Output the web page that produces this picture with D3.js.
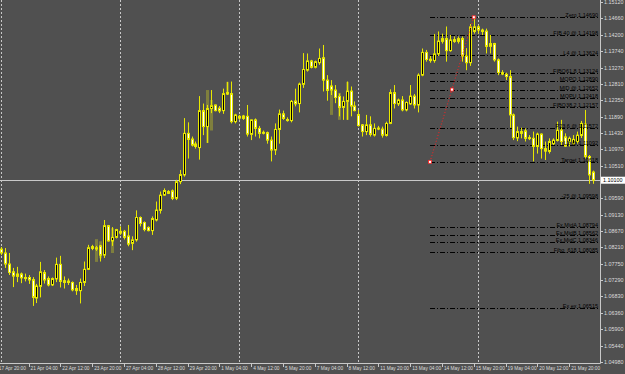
<!DOCTYPE html>
<html lang="en">
  <head>
    <meta charset="utf-8" />
    <script src="https://d3js.org/d3.v7.min.js"></script>
    <style>
      body {
        margin: 0;
        background-color: #505050;
        overflow: hidden;
      }
      svg text {
        font-family: "Liberation Sans", Arial, sans-serif;
      }
    </style>
  </head>
  <body>
    <div id="chart"></div>

    <script>
      const width = 625;
      const height = 374;
      const plotRight = 600;
      const plotBottom = 363;

      // H4 bars, 20 Apr 00:00 -> 22 May 20:00
      const opens = [
        1.0816, 1.0805, 1.0774, 1.0752, 1.0739, 1.0746, 1.0736, 1.0736, 1.073, 1.0678,
        1.0711, 1.075, 1.0733, 1.0715, 1.0732, 1.0773, 1.0727, 1.0726, 1.0722, 1.0705,
        1.0699, 1.0722, 1.0759, 1.0823, 1.0816, 1.0825, 1.0799, 1.0882, 1.0839, 1.0849,
        1.0866, 1.0866, 1.0853, 1.0832, 1.0842, 1.0905, 1.0891, 1.0877, 1.0868, 1.0898,
        1.0925, 1.0968, 1.0978, 1.098, 1.0959, 1.1006, 1.1025, 1.1142, 1.1126, 1.1112,
        1.1102, 1.1206, 1.1161, 1.1212, 1.1222, 1.1213, 1.1206, 1.1257, 1.1254, 1.1175,
        1.119, 1.1184, 1.119, 1.1139, 1.118, 1.1156, 1.1145, 1.1144, 1.1123, 1.1095,
        1.1153, 1.1197, 1.1181, 1.1178, 1.1233, 1.1226, 1.128, 1.132, 1.1346, 1.1328,
        1.1341, 1.1355, 1.1292, 1.1275, 1.1264, 1.1246, 1.1215, 1.1232, 1.1261, 1.1219,
        1.1195, 1.1166, 1.1147, 1.1166, 1.1137, 1.1157, 1.1154, 1.1136, 1.117, 1.1257,
        1.1225, 1.1236, 1.1208, 1.1225, 1.1247, 1.1222, 1.1306, 1.137, 1.1347, 1.1347,
        1.1366, 1.1401, 1.1409, 1.1375, 1.1406, 1.1401, 1.1409, 1.136, 1.1341, 1.1429,
        1.1442, 1.1433, 1.143, 1.1387, 1.1395, 1.1349, 1.1313, 1.1309, 1.1302, 1.1194,
        1.1129, 1.1147, 1.1149, 1.113, 1.1128, 1.1105, 1.114, 1.1099, 1.1091, 1.1113,
        1.1122, 1.1151, 1.1132, 1.1119, 1.1113, 1.1119, 1.1136, 1.1168, 1.1077, 1.1033
      ];
      const highs = [
        1.0822, 1.0819, 1.0805, 1.0763, 1.0766, 1.075, 1.0747, 1.0743, 1.0737, 1.0718,
        1.078, 1.0757, 1.0739, 1.0736, 1.0792, 1.0797, 1.0739, 1.0733, 1.0725, 1.0715,
        1.0733, 1.0781, 1.0828, 1.0828, 1.0825, 1.0828, 1.0898, 1.0884, 1.0878, 1.0873,
        1.088, 1.087, 1.0884, 1.0852, 1.0925, 1.0908, 1.0894, 1.088, 1.0908, 1.095,
        1.0978, 1.0987, 1.0982, 1.0984, 1.1011, 1.1039, 1.1185, 1.1173, 1.1133, 1.1119,
        1.1247, 1.1226, 1.1222, 1.1264, 1.1223, 1.1219, 1.1268, 1.1287, 1.1288, 1.1197,
        1.1194, 1.1194, 1.1222, 1.1181, 1.1184, 1.1163, 1.115, 1.1147, 1.1133, 1.117,
        1.1209, 1.1206, 1.1187, 1.1236, 1.1268, 1.1285, 1.1368, 1.1367, 1.1349, 1.1347,
        1.1381, 1.1391, 1.1306, 1.1292, 1.1278, 1.1254, 1.1246, 1.1288, 1.1274, 1.1232,
        1.1208, 1.1168, 1.1194, 1.119, 1.117, 1.1163, 1.1161, 1.1175, 1.1266, 1.1278,
        1.124, 1.1247, 1.1232, 1.1278, 1.1253, 1.1311, 1.1381, 1.1377, 1.136, 1.1422,
        1.1429, 1.1423, 1.1443, 1.1419, 1.1415, 1.1415, 1.1415, 1.1382, 1.145, 1.1469,
        1.1447, 1.1437, 1.1437, 1.1419, 1.1397, 1.1353, 1.132, 1.1313, 1.132, 1.1198,
        1.1161, 1.1158, 1.1156, 1.1137, 1.1147, 1.1144, 1.1142, 1.1119, 1.1128, 1.1128,
        1.1175, 1.118, 1.1142, 1.1133, 1.1137, 1.1147, 1.1177, 1.1208, 1.1081, 1.1037
      ];
      const lows = [
        1.0799, 1.0763, 1.0743, 1.0709, 1.0723, 1.072, 1.0725, 1.0718, 1.0656, 1.0664,
        1.068, 1.0719, 1.0711, 1.0712, 1.0723, 1.0708, 1.0705, 1.0715, 1.0697, 1.0687,
        1.0663, 1.0712, 1.0757, 1.0813, 1.0811, 1.0781, 1.0791, 1.0837, 1.0825, 1.0846,
        1.0856, 1.0843, 1.0824, 1.0813, 1.0837, 1.088, 1.0866, 1.0866, 1.0856, 1.0894,
        1.0916, 1.0966, 1.0971, 1.0954, 1.0954, 1.0999, 1.102, 1.1071, 1.1105, 1.1099,
        1.1068, 1.1137, 1.1115, 1.1199, 1.1204, 1.1199, 1.1197, 1.125, 1.117, 1.117,
        1.118, 1.118, 1.1133, 1.1123, 1.1133, 1.1128, 1.1139, 1.1113, 1.1063, 1.1081,
        1.1113, 1.118, 1.1175, 1.1173, 1.1218, 1.1201, 1.127, 1.1316, 1.1325, 1.1325,
        1.1335, 1.126, 1.1234, 1.125, 1.1227, 1.119, 1.118, 1.118, 1.119, 1.1204,
        1.1161, 1.1133, 1.1137, 1.1133, 1.1133, 1.1151, 1.113, 1.1133, 1.1168, 1.1212,
        1.1219, 1.1204, 1.1204, 1.1222, 1.1212, 1.1201, 1.1303, 1.1344, 1.1341, 1.1341,
        1.136, 1.1395, 1.1344, 1.1372, 1.1397, 1.1395, 1.1344, 1.132, 1.1332, 1.1423,
        1.1423, 1.1419, 1.1367, 1.1367, 1.1344, 1.1306, 1.1306, 1.1292, 1.1158, 1.1123,
        1.112, 1.1128, 1.1119, 1.1123, 1.1063, 1.1085, 1.1071, 1.1067, 1.1085, 1.1109,
        1.1119, 1.1109, 1.1104, 1.1105, 1.1109, 1.1113, 1.1129, 1.1071, 1.1, 1.1
      ];
      const closes = [
        1.0805, 1.0774, 1.075, 1.074, 1.0746, 1.0735, 1.0733, 1.0729, 1.068, 1.0712,
        1.0752, 1.0729, 1.0715, 1.0733, 1.0773, 1.0725, 1.0722, 1.0722, 1.0701, 1.0699,
        1.0722, 1.0759, 1.082, 1.0818, 1.082, 1.0799, 1.0882, 1.0839, 1.0849, 1.0871,
        1.0861, 1.0849, 1.083, 1.0842, 1.0905, 1.0888, 1.0871, 1.0868, 1.0902, 1.0926,
        1.0968, 1.0981, 1.0973, 1.0959, 1.1006, 1.1026, 1.1142, 1.1125, 1.1109, 1.1105,
        1.1206, 1.1161, 1.1212, 1.122, 1.1206, 1.1205, 1.1254, 1.1253, 1.1175, 1.1194,
        1.1185, 1.1191, 1.114, 1.118, 1.1156, 1.1142, 1.1143, 1.1123, 1.1095, 1.1153,
        1.1197, 1.1184, 1.1178, 1.1232, 1.1225, 1.1281, 1.1322, 1.1346, 1.1328, 1.1344,
        1.1353, 1.1292, 1.1263, 1.1264, 1.1243, 1.1215, 1.1232, 1.1261, 1.1219, 1.1206,
        1.1164, 1.1147, 1.1166, 1.1139, 1.1156, 1.1154, 1.1137, 1.117, 1.1257, 1.1226,
        1.1236, 1.1208, 1.1229, 1.1247, 1.1222, 1.1306, 1.137, 1.135, 1.1351, 1.1366,
        1.1402, 1.1409, 1.1375, 1.1405, 1.1401, 1.1409, 1.136, 1.1341, 1.1442, 1.1442,
        1.1433, 1.1429, 1.1387, 1.1395, 1.1349, 1.1313, 1.1309, 1.1302, 1.1194, 1.113,
        1.1147, 1.1142, 1.1128, 1.1128, 1.1105, 1.114, 1.1099, 1.1092, 1.1119, 1.1123,
        1.1151, 1.1119, 1.1106, 1.1128, 1.1125, 1.1137, 1.117, 1.1077, 1.1025, 1.101
      ];

      // faint overlay bars seen behind the main candles
      const ghostBars = [24, 25, 28, 52, 53, 57, 83, 85, 87];
      const ghostHighs = [1.0844, 1.0838, 1.0875, 1.1264, 1.1236, 1.1287, 1.1278, 1.1256, 1.1287];
      const ghostLows = [1.0780, 1.0790, 1.0805, 1.1115, 1.1150, 1.1250, 1.1194, 1.1180, 1.1180];

      const priceTicks = [
        "1.15120", "1.14660", "1.14200", "1.13740", "1.13270", "1.12810", "1.12350",
        "1.11890", "1.11430", "1.10970", "1.10510", "1.09590", "1.09130", "1.08670",
        "1.08210", "1.07750", "1.07290", "1.06830", "1.06360", "1.05900", "1.05440",
        "1.04980"
      ];

      const dateLabels = [
        "17 Apr 20:00", "21 Apr 04:00", "22 Apr 12:00", "23 Apr 20:00", "27 Apr 04:00",
        "28 Apr 12:00", "29 Apr 20:00", "1 May 04:00", "4 May 12:00", "5 May 20:00",
        "7 May 04:00", "8 May 12:00", "11 May 20:00", "13 May 04:00", "14 May 12:00",
        "15 May 20:00", "19 May 04:00", "20 May 12:00", "21 May 20:00"
      ];
      const dateBars = [-1, 7, 15, 23, 31, 39, 47, 55, 63, 71, 79, 87, 95, 103, 111, 119, 127, 135, 143];

      // Monday 00:00 bars
      const weekStarts = [0, 30, 60, 90, 120];

      const levelNames = [
        "Zero", "FIB 40 @", "L4 @", "FIBO61.8", "MOPO", "MID @", "MOPU", "FIBO38.2",
        "P23.6 @", "L2 @", "Target", "-25 @", "Ex.MidA", "Ex.MidB", "Ex.MidC",
        "Fibo_618", "Ex ex"
      ];
      const levelPrices = [
        1.1469, 1.14198, 1.13624, 1.13124, 1.1289, 1.12652, 1.12418, 1.12157,
        1.11572, 1.11092, 1.10618, 1.09598, 1.08794, 1.08562, 1.08346, 1.08085, 1.06515
      ];
      const levelStartBar = 108;

      // red trend line anchors
      const trendBars = [108, 119];
      const trendPrices = [1.10618, 1.1469];

      const bars = opens.map((o, i) => ({
        i,
        o,
        h: highs[i],
        l: lows[i],
        c: closes[i]
      }));
      const lastPrice = closes[closes.length - 1];

      const svg = d3
        .select("#chart")
        .append("svg")
        .attr("width", width)
        .attr("height", height);

      const x = d3.scaleLinear().domain([0, 149]).range([0.7, 593]);
      const y = d3.scaleLinear().domain([1.0498, 1.1512]).range([362, 2]);

      svg
        .append("rect")
        .attr("width", width)
        .attr("height", height)
        .attr("fill", "#505050");

      svg
        .append("defs")
        .append("clipPath")
        .attr("id", "plot")
        .append("rect")
        .attr("width", plotRight)
        .attr("height", plotBottom);

      const plot = svg.append("g").attr("clip-path", "url(#plot)");

      // week separators
      plot
        .selectAll(".sep")
        .data(weekStarts)
        .join("line")
        .attr("x1", (d) => Math.round(x(d)) + 0.5)
        .attr("x2", (d) => Math.round(x(d)) + 0.5)
        .attr("y1", 0)
        .attr("y2", plotBottom)
        .attr("stroke", "#c8c8c8")
        .attr("stroke-dasharray", "2,2");

      // levels
      plot
        .selectAll(".level")
        .data(levelPrices)
        .join("line")
        .attr("x1", x(levelStartBar))
        .attr("x2", plotRight)
        .attr("y1", (d) => Math.round(y(d)) + 0.5)
        .attr("y2", (d) => Math.round(y(d)) + 0.5)
        .attr("stroke", "#000")
        .attr("stroke-width", 1)
        .attr("stroke-dasharray", "5,2,1,2");

      // bid line
      plot
        .append("line")
        .attr("x1", 0)
        .attr("x2", plotRight)
        .attr("y1", Math.round(y(lastPrice)) + 0.5)
        .attr("y2", Math.round(y(lastPrice)) + 0.5)
        .attr("stroke", "#c8c8c8");

      // ghost bars
      plot
        .selectAll(".ghost")
        .data(ghostBars)
        .join("rect")
        .attr("x", (d) => Math.round(x(d)) - 1)
        .attr("width", 3)
        .attr("y", (d, i) => y(ghostHighs[i]))
        .attr("height", (d, i) => y(ghostLows[i]) - y(ghostHighs[i]))
        .attr("fill", "#a6a62e")
        .attr("opacity", 0.55);

      // candles
      const candle = plot.selectAll(".candle").data(bars).join("g");

      candle
        .append("line")
        .attr("x1", (d) => Math.round(x(d.i)) + 0.5)
        .attr("x2", (d) => Math.round(x(d.i)) + 0.5)
        .attr("y1", (d) => y(d.h))
        .attr("y2", (d) => y(d.l))
        .attr("stroke", "#e8e800");

      candle
        .append("rect")
        .attr("x", (d) => Math.round(x(d.i)) - 1 + 0.5)
        .attr("width", 2)
        .attr("y", (d) => y(Math.max(d.o, d.c)))
        .attr("height", (d) => Math.max(1, Math.abs(y(d.o) - y(d.c))))
        .attr("fill", (d) => (d.c >= d.o ? "#000" : "#fff"))
        .attr("stroke", "#e8e800")
        .attr("stroke-width", 1);

      // trend line
      plot
        .append("line")
        .attr("x1", x(trendBars[0]))
        .attr("y1", y(trendPrices[0]))
        .attr("x2", x(trendBars[1]))
        .attr("y2", y(trendPrices[1]))
        .attr("stroke", "#ff2020")
        .attr("stroke-dasharray", "1,2");

      const anchors = [
        [trendBars[0], trendPrices[0]],
        [(trendBars[0] + trendBars[1]) / 2, (trendPrices[0] + trendPrices[1]) / 2],
        [trendBars[1], trendPrices[1]]
      ];
      plot
        .selectAll(".anchor")
        .data(anchors)
        .join("rect")
        .attr("x", (d) => x(d[0]) - 1.5)
        .attr("y", (d) => y(d[1]) - 1.5)
        .attr("width", 3)
        .attr("height", 3)
        .attr("fill", "#fff")
        .attr("stroke", "#ff2020")
        .attr("stroke-width", 0.8);

      // level labels
      plot
        .selectAll(".lvl-label")
        .data(levelPrices)
        .join("text")
        .attr("x", 598)
        .attr("y", (d) => Math.round(y(d)) - 0.5)
        .attr("text-anchor", "end")
        .attr("font-size", "5.5px")
        .attr("fill", "#000")
        .text((d, i) => `${levelNames[i]} ${d.toFixed(5)}`);

      // axes
      svg
        .append("line")
        .attr("x1", plotRight + 0.5)
        .attr("x2", plotRight + 0.5)
        .attr("y1", 0)
        .attr("y2", plotBottom + 0.5)
        .attr("stroke", "#c8c8c8");
      svg
        .append("line")
        .attr("x1", 0)
        .attr("x2", plotRight + 0.5)
        .attr("y1", plotBottom + 0.5)
        .attr("y2", plotBottom + 0.5)
        .attr("stroke", "#c8c8c8");

      const yTicks = svg.append("g").selectAll("g").data(priceTicks).join("g");
      yTicks
        .append("line")
        .attr("x1", plotRight)
        .attr("x2", plotRight + 3)
        .attr("y1", (d) => Math.round(y(+d)) + 0.5)
        .attr("y2", (d) => Math.round(y(+d)) + 0.5)
        .attr("stroke", "#c8c8c8");
      yTicks
        .append("text")
        .attr("x", plotRight + 4)
        .attr("y", (d) => y(+d) + 2)
        .attr("font-size", "5.4px")
        .attr("fill", "#dcdcdc")
        .text((d) => d);

      const xTicks = svg
        .append("g")
        .selectAll("g")
        .data(dateLabels)
        .join("g");
      xTicks
        .append("line")
        .attr("x1", (d, i) => Math.round(x(dateBars[i])) + 0.5)
        .attr("x2", (d, i) => Math.round(x(dateBars[i])) + 0.5)
        .attr("y1", plotBottom)
        .attr("y2", plotBottom + 4)
        .attr("stroke", "#c8c8c8");
      xTicks
        .append("text")
        .attr("x", (d, i) => x(dateBars[i]) + 2)
        .attr("y", plotBottom + 7)
        .attr("font-size", "4.8px")
        .attr("fill", "#dcdcdc")
        .text((d) => d);

      // bid price box
      const by = y(lastPrice);
      svg
        .append("rect")
        .attr("x", plotRight + 1)
        .attr("y", by - 3.5)
        .attr("width", 24)
        .attr("height", 7)
        .attr("fill", "#fff");
      svg
        .append("text")
        .attr("x", plotRight + 3)
        .attr("y", by + 2)
        .attr("font-size", "5.4px")
        .attr("fill", "#000")
        .text(lastPrice.toFixed(5));
    </script>
  </body>
</html>
